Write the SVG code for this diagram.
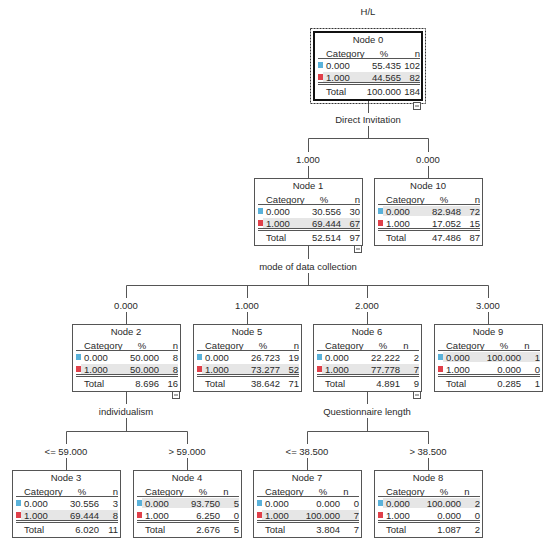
<svg xmlns="http://www.w3.org/2000/svg" width="550" height="544" viewBox="0 0 550 544">
<style>
text{font-family:"Liberation Sans",Arial,sans-serif;font-size:9.5px;fill:#2a2a2a}
.m{text-anchor:middle}.e{text-anchor:end}
.box{fill:#fff;stroke:#555;stroke-width:1}
.box0{fill:#fff;stroke:#111;stroke-width:2}
.dash{fill:none;stroke:#333;stroke-width:1;stroke-dasharray:2,1}
.hl{fill:#e6e6e6}
.rule{stroke:#555;stroke-width:1}
.b{fill:#5ab2da}.r{fill:#e0404a}
.c{fill:none;stroke:#555;stroke-width:1}
.ic{fill:#fff;stroke:#555;stroke-width:1}
</style>
<text class="m" x="368" y="15">H/L</text>
<g id="connectors">
<path class="c" d="M368.5 101V113M368.5 126V138.5M308.5 138.5H428.5M308.5 138.5V152M428.5 138.5V152M308.5 166V178M428.5 166V178"/>
<path class="c" d="M308.5 246V259M308.5 273V285.5M126.5 285.5H488.5M126.5 285.5V298M247.5 285.5V298M367.5 285.5V298M488.5 285.5V298M126.5 312V324M247.5 312V324M367.5 312V324M488.5 312V324"/>
<path class="c" d="M126.5 392V404M126.5 418V431.5M66.5 431.5H187.5M66.5 431.5V444M187.5 431.5V444M66.5 458V470M187.5 458V470"/>
<path class="c" d="M367.5 392V404M367.5 418V431.5M307.5 431.5H428.5M307.5 431.5V444M428.5 431.5V444M307.5 458V470M428.5 458V470"/>
<text class="m" x="368" y="122.5">Direct Invitation</text>
<text class="m" x="308" y="162.5">1.000</text>
<text class="m" x="428" y="162.5">0.000</text>
<text class="m" x="308" y="269.5">mode of data collection</text>
<text class="m" x="126" y="308.5">0.000</text>
<text class="m" x="247" y="308.5">1.000</text>
<text class="m" x="367" y="308.5">2.000</text>
<text class="m" x="488" y="308.5">3.000</text>
<text class="m" x="126" y="414.5">individualism</text>
<text class="m" x="367" y="414.5">Questionnaire length</text>
<text class="m" x="66" y="454.5">&lt;= 59.000</text>
<text class="m" x="187" y="454.5">&gt; 59.000</text>
<text class="m" x="307" y="454.5">&lt;= 38.500</text>
<text class="m" x="428" y="454.5">&gt; 38.500</text>
</g>
<g id="node0" transform="translate(314,32)">
<rect class="dash" x="-3.5" y="-3.5" width="115" height="75"/>
<rect class="box0" x="0" y="0" width="108" height="68"/>
<rect class="hl" x="9" y="40" width="97" height="10"/>
<text class="m" x="54" y="11">Node 0</text>
<text x="12" y="24.5">Category</text><text class="m" x="70" y="24.5">%</text><text class="e" x="106" y="24.5">n</text>
<line class="rule" x1="4" x2="106" y1="26.5" y2="26.5"/>
<rect class="b" x="4" y="30" width="5" height="6"/>
<text x="12" y="36.5">0.000</text><text class="e" x="87" y="36.5">55.435</text><text class="e" x="106" y="36.5">102</text>
<rect class="r" x="4" y="42" width="5" height="6"/>
<text x="12" y="48.5">1.000</text><text class="e" x="87" y="48.5">44.565</text><text class="e" x="106" y="48.5">82</text>
<line class="rule" x1="4" x2="106" y1="50.5" y2="50.5"/><line class="rule" x1="4" x2="106" y1="52.5" y2="52.5"/>
<text x="12" y="63">Total</text><text class="e" x="87" y="63">100.000</text><text class="e" x="106" y="63">184</text>
<rect class="ic" x="99.5" y="70.5" width="7" height="7"/><line class="rule" x1="101" x2="105" y1="74" y2="74"/>
</g>
<g id="node1" transform="translate(254,178)">
<rect class="box" x="0.5" y="0.5" width="108" height="67"/>
<rect class="hl" x="9" y="40" width="97" height="10"/>
<text class="m" x="54" y="11">Node 1</text>
<text x="12" y="24.5">Category</text><text class="m" x="70" y="24.5">%</text><text class="e" x="106" y="24.5">n</text>
<line class="rule" x1="4" x2="106" y1="26.5" y2="26.5"/>
<rect class="b" x="4" y="30" width="5" height="6"/>
<text x="12" y="36.5">0.000</text><text class="e" x="87" y="36.5">30.556</text><text class="e" x="106" y="36.5">30</text>
<rect class="r" x="4" y="42" width="5" height="6"/>
<text x="12" y="48.5">1.000</text><text class="e" x="87" y="48.5">69.444</text><text class="e" x="106" y="48.5">67</text>
<line class="rule" x1="4" x2="106" y1="50.5" y2="50.5"/><line class="rule" x1="4" x2="106" y1="52.5" y2="52.5"/>
<text x="12" y="63">Total</text><text class="e" x="87" y="63">52.514</text><text class="e" x="106" y="63">97</text>
<rect class="ic" x="100.5" y="67.5" width="7" height="7"/><line class="rule" x1="102" x2="106" y1="71" y2="71"/>
</g>
<g id="node10" transform="translate(374,178)">
<rect class="box" x="0.5" y="0.5" width="108" height="67"/>
<rect class="hl" x="9" y="28" width="97" height="10"/>
<text class="m" x="54" y="11">Node 10</text>
<text x="12" y="24.5">Category</text><text class="m" x="70" y="24.5">%</text><text class="e" x="106" y="24.5">n</text>
<line class="rule" x1="4" x2="106" y1="26.5" y2="26.5"/>
<rect class="b" x="4" y="30" width="5" height="6"/>
<text x="12" y="36.5">0.000</text><text class="e" x="87" y="36.5">82.948</text><text class="e" x="106" y="36.5">72</text>
<rect class="r" x="4" y="42" width="5" height="6"/>
<text x="12" y="48.5">1.000</text><text class="e" x="87" y="48.5">17.052</text><text class="e" x="106" y="48.5">15</text>
<line class="rule" x1="4" x2="106" y1="50.5" y2="50.5"/><line class="rule" x1="4" x2="106" y1="52.5" y2="52.5"/>
<text x="12" y="63">Total</text><text class="e" x="87" y="63">47.486</text><text class="e" x="106" y="63">87</text>
</g>
<g id="node2" transform="translate(72,324)">
<rect class="box" x="0.5" y="0.5" width="108" height="67"/>
<rect class="hl" x="9" y="40" width="97" height="10"/>
<text class="m" x="54" y="11">Node 2</text>
<text x="12" y="24.5">Category</text><text class="m" x="70" y="24.5">%</text><text class="e" x="106" y="24.5">n</text>
<line class="rule" x1="4" x2="106" y1="26.5" y2="26.5"/>
<rect class="b" x="4" y="30" width="5" height="6"/>
<text x="12" y="36.5">0.000</text><text class="e" x="87" y="36.5">50.000</text><text class="e" x="106" y="36.5">8</text>
<rect class="r" x="4" y="42" width="5" height="6"/>
<text x="12" y="48.5">1.000</text><text class="e" x="87" y="48.5">50.000</text><text class="e" x="106" y="48.5">8</text>
<line class="rule" x1="4" x2="106" y1="50.5" y2="50.5"/><line class="rule" x1="4" x2="106" y1="52.5" y2="52.5"/>
<text x="12" y="63">Total</text><text class="e" x="87" y="63">8.696</text><text class="e" x="106" y="63">16</text>
<rect class="ic" x="100.5" y="67.5" width="7" height="7"/><line class="rule" x1="102" x2="106" y1="71" y2="71"/>
</g>
<g id="node5" transform="translate(193,324)">
<rect class="box" x="0.5" y="0.5" width="108" height="67"/>
<rect class="hl" x="9" y="40" width="97" height="10"/>
<text class="m" x="54" y="11">Node 5</text>
<text x="12" y="24.5">Category</text><text class="m" x="70" y="24.5">%</text><text class="e" x="106" y="24.5">n</text>
<line class="rule" x1="4" x2="106" y1="26.5" y2="26.5"/>
<rect class="b" x="4" y="30" width="5" height="6"/>
<text x="12" y="36.5">0.000</text><text class="e" x="87" y="36.5">26.723</text><text class="e" x="106" y="36.5">19</text>
<rect class="r" x="4" y="42" width="5" height="6"/>
<text x="12" y="48.5">1.000</text><text class="e" x="87" y="48.5">73.277</text><text class="e" x="106" y="48.5">52</text>
<line class="rule" x1="4" x2="106" y1="50.5" y2="50.5"/><line class="rule" x1="4" x2="106" y1="52.5" y2="52.5"/>
<text x="12" y="63">Total</text><text class="e" x="87" y="63">38.642</text><text class="e" x="106" y="63">71</text>
</g>
<g id="node6" transform="translate(313,324)">
<rect class="box" x="0.5" y="0.5" width="108" height="67"/>
<rect class="hl" x="9" y="40" width="97" height="10"/>
<text class="m" x="54" y="11">Node 6</text>
<text x="12" y="24.5">Category</text><text class="m" x="70" y="24.5">%</text><text class="m" x="93" y="24.5">n</text>
<line class="rule" x1="4" x2="106" y1="26.5" y2="26.5"/>
<rect class="b" x="4" y="30" width="5" height="6"/>
<text x="12" y="36.5">0.000</text><text class="e" x="87" y="36.5">22.222</text><text class="e" x="106" y="36.5">2</text>
<rect class="r" x="4" y="42" width="5" height="6"/>
<text x="12" y="48.5">1.000</text><text class="e" x="87" y="48.5">77.778</text><text class="e" x="106" y="48.5">7</text>
<line class="rule" x1="4" x2="106" y1="50.5" y2="50.5"/><line class="rule" x1="4" x2="106" y1="52.5" y2="52.5"/>
<text x="12" y="63">Total</text><text class="e" x="87" y="63">4.891</text><text class="e" x="106" y="63">9</text>
<rect class="ic" x="100.5" y="67.5" width="7" height="7"/><line class="rule" x1="102" x2="106" y1="71" y2="71"/>
</g>
<g id="node9" transform="translate(434,324)">
<rect class="box" x="0.5" y="0.5" width="108" height="67"/>
<rect class="hl" x="9" y="28" width="97" height="10"/>
<text class="m" x="54" y="11">Node 9</text>
<text x="12" y="24.5">Category</text><text class="m" x="70" y="24.5">%</text><text class="m" x="93" y="24.5">n</text>
<line class="rule" x1="4" x2="106" y1="26.5" y2="26.5"/>
<rect class="b" x="4" y="30" width="5" height="6"/>
<text x="12" y="36.5">0.000</text><text class="e" x="87" y="36.5">100.000</text><text class="e" x="106" y="36.5">1</text>
<rect class="r" x="4" y="42" width="5" height="6"/>
<text x="12" y="48.5">1.000</text><text class="e" x="87" y="48.5">0.000</text><text class="e" x="106" y="48.5">0</text>
<line class="rule" x1="4" x2="106" y1="50.5" y2="50.5"/><line class="rule" x1="4" x2="106" y1="52.5" y2="52.5"/>
<text x="12" y="63">Total</text><text class="e" x="87" y="63">0.285</text><text class="e" x="106" y="63">1</text>
</g>
<g id="node3" transform="translate(12,470)">
<rect class="box" x="0.5" y="0.5" width="108" height="67"/>
<rect class="hl" x="9" y="40" width="97" height="10"/>
<text class="m" x="54" y="11">Node 3</text>
<text x="12" y="24.5">Category</text><text class="m" x="70" y="24.5">%</text><text class="e" x="106" y="24.5">n</text>
<line class="rule" x1="4" x2="106" y1="26.5" y2="26.5"/>
<rect class="b" x="4" y="30" width="5" height="6"/>
<text x="12" y="36.5">0.000</text><text class="e" x="87" y="36.5">30.556</text><text class="e" x="106" y="36.5">3</text>
<rect class="r" x="4" y="42" width="5" height="6"/>
<text x="12" y="48.5">1.000</text><text class="e" x="87" y="48.5">69.444</text><text class="e" x="106" y="48.5">8</text>
<line class="rule" x1="4" x2="106" y1="50.5" y2="50.5"/><line class="rule" x1="4" x2="106" y1="52.5" y2="52.5"/>
<text x="12" y="63">Total</text><text class="e" x="87" y="63">6.020</text><text class="e" x="106" y="63">11</text>
</g>
<g id="node4" transform="translate(133,470)">
<rect class="box" x="0.5" y="0.5" width="108" height="67"/>
<rect class="hl" x="9" y="28" width="97" height="10"/>
<text class="m" x="54" y="11">Node 4</text>
<text x="12" y="24.5">Category</text><text class="m" x="70" y="24.5">%</text><text class="m" x="93" y="24.5">n</text>
<line class="rule" x1="4" x2="106" y1="26.5" y2="26.5"/>
<rect class="b" x="4" y="30" width="5" height="6"/>
<text x="12" y="36.5">0.000</text><text class="e" x="87" y="36.5">93.750</text><text class="e" x="106" y="36.5">5</text>
<rect class="r" x="4" y="42" width="5" height="6"/>
<text x="12" y="48.5">1.000</text><text class="e" x="87" y="48.5">6.250</text><text class="e" x="106" y="48.5">0</text>
<line class="rule" x1="4" x2="106" y1="50.5" y2="50.5"/><line class="rule" x1="4" x2="106" y1="52.5" y2="52.5"/>
<text x="12" y="63">Total</text><text class="e" x="87" y="63">2.676</text><text class="e" x="106" y="63">5</text>
</g>
<g id="node7" transform="translate(253,470)">
<rect class="box" x="0.5" y="0.5" width="108" height="67"/>
<rect class="hl" x="9" y="40" width="97" height="10"/>
<text class="m" x="54" y="11">Node 7</text>
<text x="12" y="24.5">Category</text><text class="m" x="70" y="24.5">%</text><text class="m" x="93" y="24.5">n</text>
<line class="rule" x1="4" x2="106" y1="26.5" y2="26.5"/>
<rect class="b" x="4" y="30" width="5" height="6"/>
<text x="12" y="36.5">0.000</text><text class="e" x="87" y="36.5">0.000</text><text class="e" x="106" y="36.5">0</text>
<rect class="r" x="4" y="42" width="5" height="6"/>
<text x="12" y="48.5">1.000</text><text class="e" x="87" y="48.5">100.000</text><text class="e" x="106" y="48.5">7</text>
<line class="rule" x1="4" x2="106" y1="50.5" y2="50.5"/><line class="rule" x1="4" x2="106" y1="52.5" y2="52.5"/>
<text x="12" y="63">Total</text><text class="e" x="87" y="63">3.804</text><text class="e" x="106" y="63">7</text>
</g>
<g id="node8" transform="translate(374,470)">
<rect class="box" x="0.5" y="0.5" width="108" height="67"/>
<rect class="hl" x="9" y="28" width="97" height="10"/>
<text class="m" x="54" y="11">Node 8</text>
<text x="12" y="24.5">Category</text><text class="m" x="70" y="24.5">%</text><text class="m" x="93" y="24.5">n</text>
<line class="rule" x1="4" x2="106" y1="26.5" y2="26.5"/>
<rect class="b" x="4" y="30" width="5" height="6"/>
<text x="12" y="36.5">0.000</text><text class="e" x="87" y="36.5">100.000</text><text class="e" x="106" y="36.5">2</text>
<rect class="r" x="4" y="42" width="5" height="6"/>
<text x="12" y="48.5">1.000</text><text class="e" x="87" y="48.5">0.000</text><text class="e" x="106" y="48.5">0</text>
<line class="rule" x1="4" x2="106" y1="50.5" y2="50.5"/><line class="rule" x1="4" x2="106" y1="52.5" y2="52.5"/>
<text x="12" y="63">Total</text><text class="e" x="87" y="63">1.087</text><text class="e" x="106" y="63">2</text>
</g>
</svg>
